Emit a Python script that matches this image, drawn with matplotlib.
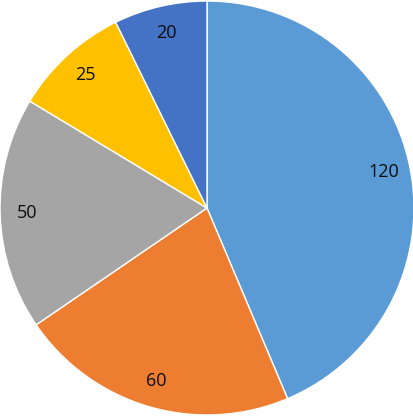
import matplotlib
matplotlib.use("Agg")
import matplotlib.pyplot as plt

values = [120, 60, 50, 25, 20]
labels = ["120", "60", "50", "25", "20"]
colors = ["#5B9BD5", "#ED7D31", "#A5A5A5", "#FFC000", "#4472C4"]

fig = plt.figure(figsize=(4.14, 4.16), dpi=100)
ax = fig.add_axes([0, 0, 1, 1])
wedges, texts = ax.pie(
    values, labels=labels, colors=colors, startangle=90, counterclock=False,
    labeldistance=0.87, radius=1.0,
    wedgeprops=dict(edgecolor="white", linewidth=1.0),
    textprops=dict(fontsize=13, color="#0D0D0D", family="Open Sans",
                   ha="center", va="center"),
)
ax.set_xlim(-1.0, 1.0)
ax.set_ylim(-1.005, 1.005)
ax.set_aspect("equal")
fig.savefig("out.png", dpi=100)
